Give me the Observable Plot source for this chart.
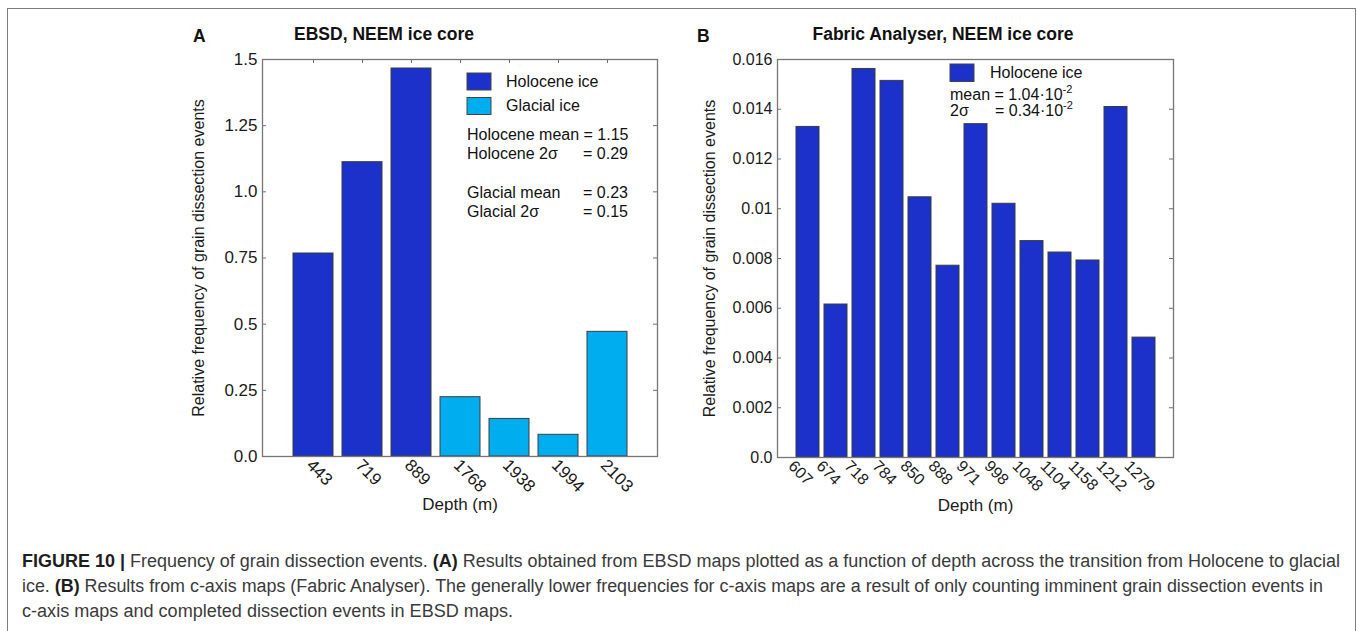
<!DOCTYPE html>
<html>
<head>
<meta charset="utf-8">
<script src="https://cdn.jsdelivr.net/npm/d3@7"></script>
<script src="https://cdn.jsdelivr.net/npm/@observablehq/plot@0.6"></script>
<style>
  html, body { margin: 0; padding: 0; background: #fff; }
  body { width: 1357px; height: 631px; overflow: hidden; position: relative; font-family: "Liberation Sans", Arial, sans-serif; }
  #border { position: absolute; left: 7px; top: 8px; width: 1347px; height: 700px; border: 1.3px solid #7d7d7d; border-bottom: none; }
  .abs { position: absolute; }
  #overlay { position: absolute; left: 0; top: 0; pointer-events: none; }
</style>
</head>
<body>
<div id="border"></div>
<div id="chartA" class="abs" style="left:180px;top:40px"></div>
<div id="chartB" class="abs" style="left:690px;top:40px"></div>
<svg id="overlay" width="1357" height="631" xmlns="http://www.w3.org/2000/svg"></svg>
<script>
// ---------------- data ----------------
const periodNames = ["Holocene ice", "Glacial ice"];
const periodColors = ["#1b31c9", "#00aeef"];

const depthsA = ["443", "719", "889", "1768", "1938", "1994", "2103"];
const valuesA = [0.767, 1.112, 1.466, 0.224, 0.142, 0.082, 0.471];
const periodsA = ["Holocene ice", "Holocene ice", "Holocene ice", "Glacial ice", "Glacial ice", "Glacial ice", "Glacial ice"];
const yTicksA = [0, 0.25, 0.5, 0.75, 1.0, 1.25, 1.5];
const yTickLabelsA = ["0.0", "0.25", "0.5", "0.75", "1.0", "1.25", "1.5"];

const depthsB = ["607", "674", "718", "784", "850", "888", "971", "998", "1048", "1104", "1158", "1212", "1279"];
const valuesB = [0.01329, 0.00615, 0.01562, 0.01514, 0.01046, 0.00771, 0.01340, 0.01020, 0.00870, 0.00824, 0.00792, 0.01409, 0.00482];
const periodsB = depthsB.map(() => "Holocene ice");
const yTicksB = [0, 0.002, 0.004, 0.006, 0.008, 0.010, 0.012, 0.014, 0.016];
const yTickLabelsB = ["0.0", "0.002", "0.004", "0.006", "0.008", "0.01", "0.012", "0.014", "0.016"];

const yAxisLabel = "Relative frequency of grain dissection events";
const xAxisLabel = "Depth (m)";

const titleA = "EBSD, NEEM ice core";
const titleB = "Fabric Analyser, NEEM ice core";
const statsA = [["Holocene mean = 1.15", ""], ["Holocene 2σ", "= 0.29"], ["Glacial mean", "= 0.23"], ["Glacial 2σ", "= 0.15"]];
const statsB = [["mean = 1.04·10", "-2"], ["2σ", "= 0.34·10", "-2"]];

const captionLines = [
  [["FIGURE 10 | ", true], ["Frequency of grain dissection events. ", false], ["(A)", true], [" Results obtained from EBSD maps plotted as a function of depth across the transition from Holocene to glacial", false]],
  [["ice. ", false], ["(B)", true], [" Results from c-axis maps (Fabric Analyser). The generally lower frequencies for c-axis maps are a result of only counting imminent grain dissection events in", false]],
  [["c-axis maps and completed dissection events in EBSD maps.", false]]
];

// ---------------- charts ----------------
function makeChart(o) {
  const data = o.depths.map((d, i) => ({depth: d, value: o.values[i], period: o.periods[i]}));
  const fw = o.width - o.ml - o.mr;
  const fh = o.height - o.mt - o.mb;
  const fmt = d => o.yLabels[o.yTicks.findIndex(t => Math.abs(t - d) < 1e-9)];
  return Plot.plot({
    width: o.width, height: o.height,
    marginLeft: o.ml, marginRight: o.mr, marginTop: o.mt, marginBottom: o.mb,
    style: {fontFamily: "'Liberation Sans', Arial, sans-serif", color: "#1a1a1a", background: "transparent", overflow: "visible"},
    x: {type: "band", domain: o.depths, paddingInner: 0.19, paddingOuter: 0.595, axis: null},
    y: {domain: o.yDomain, axis: null},
    color: {domain: periodNames, range: periodColors},
    marks: [
      Plot.barY(data, {x: "depth", y: "value", fill: "period", stroke: "#3c3c3c", strokeWidth: 1}),
      Plot.tickY(o.yTicks, {y: d => d, insetRight: fw - 4, stroke: "#6e6e6e"}),
      Plot.tickY(o.yTicks, {y: d => d, insetLeft: fw - 4, stroke: "#6e6e6e"}),
      o.topTicks ? Plot.tickX(o.depths, {x: d => d, insetBottom: fh - 4, stroke: "#6e6e6e"}) : null,
      Plot.frame({stroke: "#767676", strokeWidth: 1.3}),
      Plot.axisY({ticks: o.yTicks, tickFormat: fmt, tickSize: 0, tickPadding: 5, fontSize: o.fontSize, label: null}),
      Plot.axisX({tickSize: 0, tickRotate: 45, tickPadding: 6, fontSize: o.fontSize, dx: o.tickDx, label: null}),
      Plot.text([yAxisLabel], {text: d => d, frameAnchor: "left", textAnchor: "middle", lineAnchor: "middle", rotate: -90, dx: o.ylabDx, fontSize: 16}),
      Plot.text([xAxisLabel], {text: d => d, frameAnchor: "bottom", textAnchor: "middle", lineAnchor: "middle", dy: 48, fontSize: 17, fontFamily: "'Liberation Sans Narrow', 'Liberation Sans', Arial, sans-serif"})
    ]
  });
}

document.getElementById("chartA").append(makeChart({
  depths: depthsA, values: valuesA, periods: periodsA,
  yDomain: [0, 1.5], yTicks: yTicksA, yLabels: yTickLabelsA,
  width: 500, height: 480, ml: 82, mr: 23, mt: 19, mb: 64,
  fontSize: 17, tickDx: -4, ylabDx: -64, topTicks: true
}));

document.getElementById("chartB").append(makeChart({
  depths: depthsB, values: valuesB, periods: periodsB,
  yDomain: [0, 0.016], yTicks: yTicksB, yLabels: yTickLabelsB,
  width: 506, height: 480, ml: 87, mr: 23, mt: 19, mb: 63,
  fontSize: 16, tickDx: -17, ylabDx: -68, topTicks: false
}));

// ---------------- titles, legends, caption ----------------
const svg = d3.select("#overlay");
const FF = "'Liberation Sans', Arial, sans-serif";
function txt(x, y, s, opt = {}) {
  return svg.append("text").attr("x", x).attr("y", y).text(s)
    .attr("font-family", opt.ff || FF).attr("font-size", opt.fs || 16)
    .attr("font-weight", opt.bold ? "bold" : "normal")
    .attr("text-anchor", opt.anchor || "start").attr("fill", opt.fill || "#111");
}
txt(193, 42, "A", {bold: true, fs: 17.5});
txt(384, 40, titleA, {bold: true, fs: 17.5, anchor: "middle"});
txt(697, 42, "B", {bold: true, fs: 17.5});
txt(943, 40, titleB, {bold: true, fs: 17.5, anchor: "middle"});

// legend A
svg.append("rect").attr("x", 467).attr("y", 73).attr("width", 24).attr("height", 17).attr("fill", periodColors[0]).attr("stroke", "#444");
svg.append("rect").attr("x", 467).attr("y", 97.5).attr("width", 24).attr("height", 17).attr("fill", periodColors[1]).attr("stroke", "#444");
txt(506, 86.5, periodNames[0]);
txt(506, 111, periodNames[1]);
const statYA = [140, 159, 197.5, 216.5];
statsA.forEach((s, i) => { txt(467, statYA[i], s[0]); if (s[1]) txt(628, statYA[i], s[1], {anchor: "end"}); });

// legend B
svg.append("rect").attr("x", 950).attr("y", 64).attr("width", 24).attr("height", 17.5).attr("fill", periodColors[0]).attr("stroke", "#444");
txt(990, 77.5, periodNames[0]);
{
  const t1 = txt(950, 99.5, statsB[0][0]);
  t1.append("tspan").attr("font-size", 11).attr("dy", -7).text(statsB[0][1]);
  txt(950, 116, statsB[1][0]);
  const t2 = txt(995, 116, statsB[1][1]);
  t2.append("tspan").attr("font-size", 11).attr("dy", -7).text(statsB[1][2]);
}

// caption
const capY = [567, 592, 617];
const capLen = [1318, 1301, 491];
captionLines.forEach((line, i) => {
  const t = svg.append("text").attr("x", 22).attr("y", capY[i])
    .attr("font-family", "'Liberation Sans Narrow', 'Liberation Sans', Arial, sans-serif")
    .attr("font-size", 18).attr("fill", "#3a3a3a")
    .attr("textLength", capLen[i]).attr("lengthAdjust", "spacingAndGlyphs");
  line.forEach(([s, b]) => t.append("tspan").attr("font-weight", b ? "bold" : "normal").attr("fill", b ? "#1e1e1e" : "#3a3a3a").text(s));
});
</script>
</body>
</html>
